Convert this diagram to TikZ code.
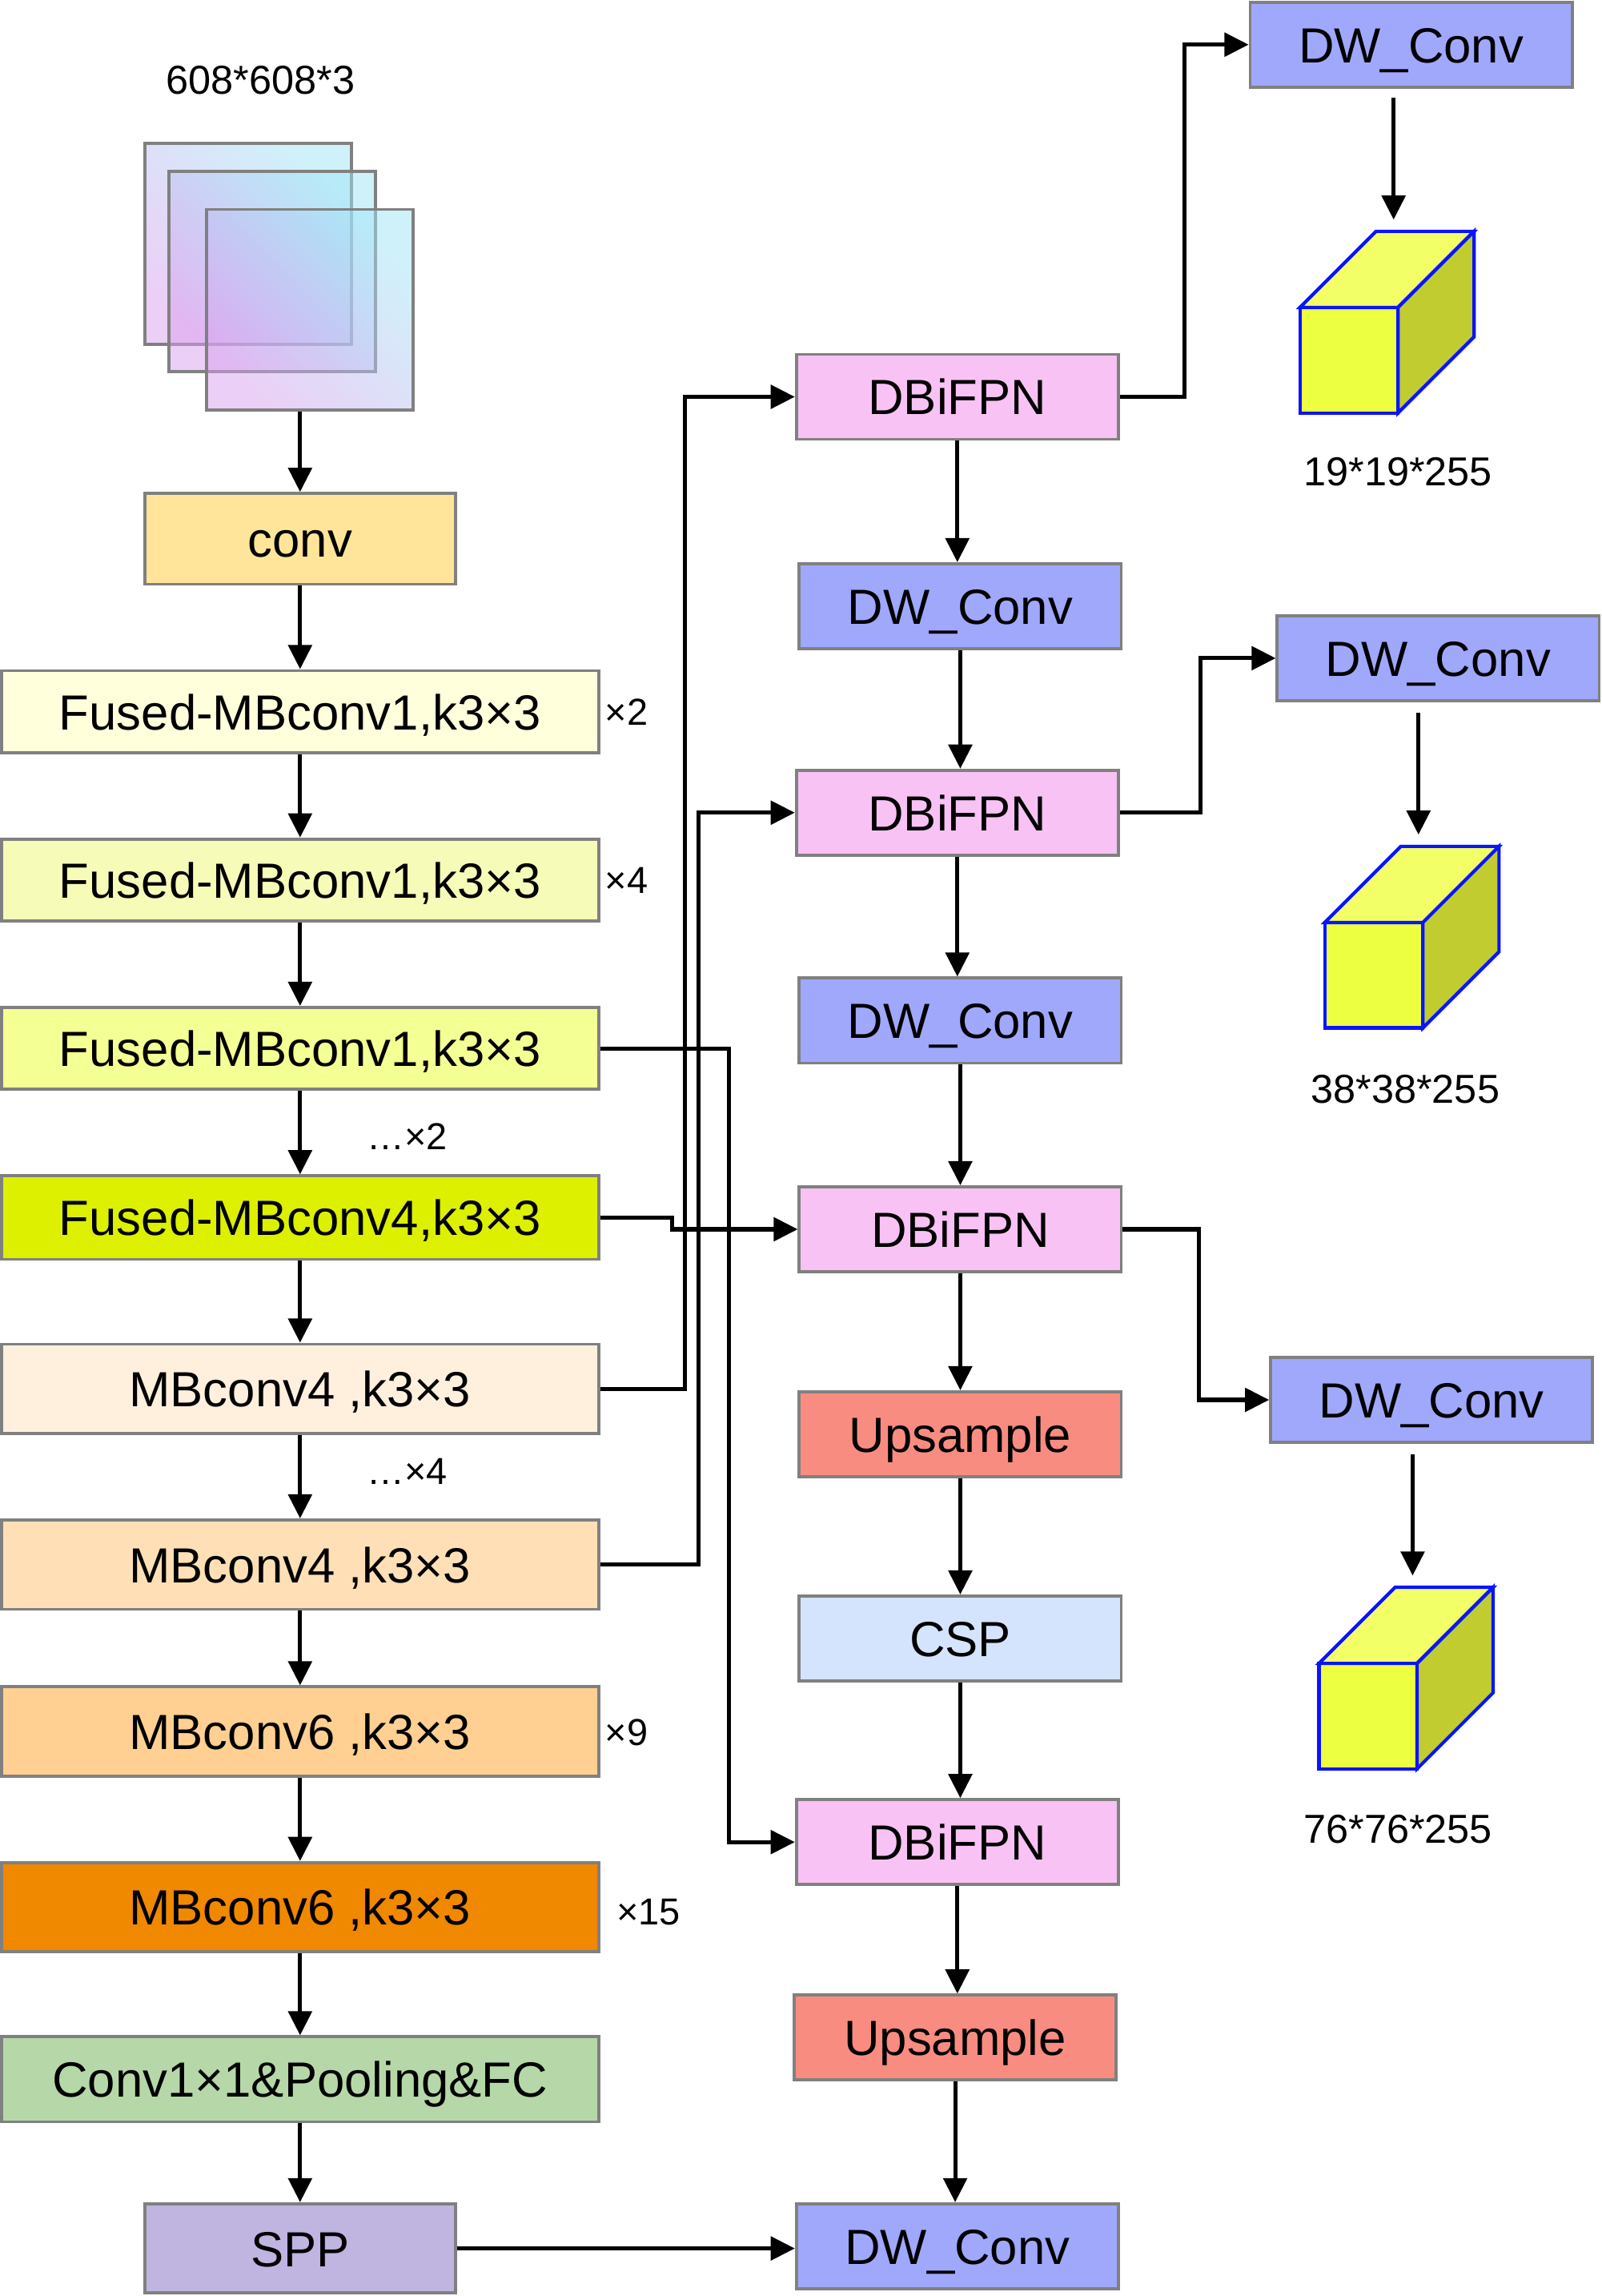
\documentclass[tikz,border=0pt]{standalone}
\usepackage{fontspec}
\setmainfont{Liberation Sans}
\usepackage{xcolor}
\usetikzlibrary{calc}
\usetikzlibrary{arrows.meta}
\definecolor{edgegray}{HTML}{808080}
\definecolor{convcol}{HTML}{FFE599}
\definecolor{fmbA}{HTML}{FFFFDC}
\definecolor{fmbB}{HTML}{F6FCB8}
\definecolor{fmbC}{HTML}{F4FF94}
\definecolor{fmbD}{HTML}{DCF000}
\definecolor{mbA}{HTML}{FFF0DE}
\definecolor{mbB}{HTML}{FFE0B6}
\definecolor{mbC}{HTML}{FFD092}
\definecolor{mbD}{HTML}{F08800}
\definecolor{headcol}{HTML}{B6D8A8}
\definecolor{sppcol}{HTML}{C0B4E0}
\definecolor{fpncol}{HTML}{F8C2F4}
\definecolor{dwcol}{HTML}{A0A8FC}
\definecolor{upcol}{HTML}{F88C80}
\definecolor{cspcol}{HTML}{D4E4FC}
\definecolor{sqtop}{HTML}{A0E4F6}
\definecolor{sqbot}{HTML}{D8A0EE}
\definecolor{cubefront}{HTML}{ECFF40}
\definecolor{cubetop}{HTML}{F2FF66}
\definecolor{cubeside}{HTML}{C0CC30}
\definecolor{cubeedge}{HTML}{0A14FF}
\tikzset{
	block/.style={
			draw=edgegray, line width=1.2pt, inner sep=0pt,
			minimum width=8.16cm, minimum height=1.16cm,
			text height=0.49cm, text depth=0pt,
			font=\fontsize{19.2}{22}\selectfont
		},
	halfblock/.style={block, minimum width=4.24cm},
	midblock/.style={block, minimum width=4.4cm},
	arr/.style={-{Triangle[length=0.33cm,width=0.32cm]}, line width=1.6pt},
	reptext/.style={font=\fontsize{14.6}{17}\selectfont, inner sep=0pt},
	dimtext/.style={font=\fontsize{15.7}{18}\selectfont, inner sep=0pt},
	imgsq/.style={
			draw=edgegray, line width=1.2pt, fill opacity=0.5,
			minimum width=2.82cm, minimum height=2.74cm,
			top color=sqtop, bottom color=sqbot, shading angle=-45
		},
	cubeface/.style={draw=cubeedge, line width=1.3pt, line join=miter}
}

\begin{document}
\begin{tikzpicture}[x=0.02cm, y=-0.02cm]%[baseline={(current bounding box.center)}]
	\useasboundingbox (0,0) rectangle (1094,1568);

	\node[dimtext] (insize) at (178,55) {608*608*3};
	\node[imgsq] (sq1) at (169.5,166.5) {};
	\node[imgsq] (sq2) at (186,185.5) {};
	\node[imgsq] (sq3) at (211.5,211.5) {};

	% backbone
	\node[halfblock, fill=convcol, minimum height=1.24cm] (conv) at (205,368) {conv};
	\node[block, fill=fmbA, minimum height=1.12cm] (fmb1) at (205,486) {Fused-MBconv1,k3×3};
	\node[block, fill=fmbB, minimum height=1.12cm] (fmb2) at (205,601) {Fused-MBconv1,k3×3};
	\node[block, fill=fmbC, minimum height=1.12cm] (fmb3) at (205,716) {Fused-MBconv1,k3×3};
	\node[block, fill=fmbD, minimum height=1.14cm] (fmb4) at (205,831.5) {Fused-MBconv4,k3×3};
	\node[block, fill=mbA, minimum height=1.22cm] (mb4a) at (205,948.5) {MBconv4 ,k3×3};
	\node[block, fill=mbB, minimum height=1.22cm] (mb4b) at (205,1068.5) {MBconv4 ,k3×3};
	\node[block, fill=mbC, minimum height=1.22cm] (mb6a) at (205,1182.5) {MBconv6 ,k3×3};
	\node[block, fill=mbD, minimum height=1.22cm] (mb6b) at (205,1302.5) {MBconv6 ,k3×3};
	\node[block, fill=headcol] (head) at (205,1420) {Conv1×1\&Pooling\&FC};
	\node[halfblock, fill=sppcol, minimum height=1.22cm] (spp) at (205,1535.5) {SPP};

	\node[reptext] (rep1) at (428,486) {×2};
	\node[reptext] (rep2) at (428,601) {×4};
	\node[reptext] (rep3) at (278,776) {…×2};
	\node[reptext] (rep4) at (278,1005) {…×4};
	\node[reptext] (rep5) at (428,1183) {×9};
	\node[reptext] (rep6) at (443,1306) {×15};

	% neck
	\node[midblock, fill=fpncol] (fpn1) at (654,271) {DBiFPN};
	\node[midblock, fill=dwcol] (dwm1) at (656,414) {DW\_Conv};
	\node[midblock, fill=fpncol] (fpn2) at (654,555) {DBiFPN};
	\node[midblock, fill=dwcol] (dwm2) at (656,697) {DW\_Conv};
	\node[midblock, fill=fpncol] (fpn3) at (656,839.5) {DBiFPN};
	\node[midblock, fill=upcol] (up1) at (656,979.5) {Upsample};
	\node[midblock, fill=cspcol] (csp) at (656,1119) {CSP};
	\node[midblock, fill=fpncol] (fpn4) at (654,1258) {DBiFPN};
	\node[midblock, fill=upcol] (up2) at (652.5,1391.5) {Upsample};
	\node[midblock, fill=dwcol] (dwm3) at (654,1534) {DW\_Conv};

	% heads
	\node[midblock, fill=dwcol] (dwr1) at (964,30.5) {DW\_Conv};
	\node[midblock, fill=dwcol] (dwr2) at (982.5,449.5) {DW\_Conv};
	\node[midblock, fill=dwcol] (dwr3) at (978,956) {DW\_Conv};

	\foreach \i/\x/\y in {1/888/282, 2/905/702, 3/901/1208} {
		\filldraw[cubeface, fill=cubefront] (\x,\y) rectangle ++(67,-72);
		\filldraw[cubeface, fill=cubetop] (\x,\y-72) -- ++(52,-52) -- ++(67,0) -- ++(-52,52) -- cycle;
		\filldraw[cubeface, fill=cubeside] (\x+67,\y) -- ++(52,-52) -- ++(0,-72) -- ++(-52,52) -- cycle;
		\coordinate (cube\i) at (\x+64,\y-132);
	}
	\node[dimtext] (size1) at (955,322) {19*19*255};
	\node[dimtext] (size2) at (960,744) {38*38*255};
	\node[dimtext] (size3) at (955,1249) {76*76*255};

	\draw[arr] (sq3.south -| conv.north) -- (conv.north);
	\foreach \a/\b in {conv/fmb1, fmb1/fmb2, fmb2/fmb3, fmb3/fmb4, fmb4/mb4a, mb4a/mb4b, mb4b/mb6a, mb6a/mb6b, mb6b/head, head/spp}
		\draw[arr] (\a.south) -- (\b.north);
	\foreach \a/\b in {fpn1/dwm1, dwm1/fpn2, fpn2/dwm2, dwm2/fpn3, fpn3/up1, up1/csp, csp/fpn4, fpn4/up2, up2/dwm3}
		\draw[arr] (\a.south) -- (\a.south |- \b.north);
	\draw[arr] (spp.east) -- (spp.east -| dwm3.west);

	\draw[arr] (mb4a.east) -- ++(58,0) |- (fpn1.west);
	\draw[arr] (mb4b.east) -- ++(67,0) |- (fpn2.west);
	\draw[arr] (fmb3.east) -- ++(88,0) |- (fpn4.west);
	\draw[arr] (fmb4.east) -- ++(49,0) |- (fpn3.west);

	\draw[arr] (fpn1.east) -- ++(44,0) |- (dwr1.west);
	\draw[arr] (fpn2.east) -- ++(55,0) |- (dwr2.west);
	\draw[arr] (fpn3.east) -- ++(52,0) |- (dwr3.west);
	\draw[arr, shorten <=0.12cm] (cube1 |- dwr1.south) -- (cube1);
	\draw[arr, shorten <=0.14cm] (cube2 |- dwr2.south) -- (cube2);
	\draw[arr, shorten <=0.14cm] (cube3 |- dwr3.south) -- (cube3);
\end{tikzpicture}
\end{document}
